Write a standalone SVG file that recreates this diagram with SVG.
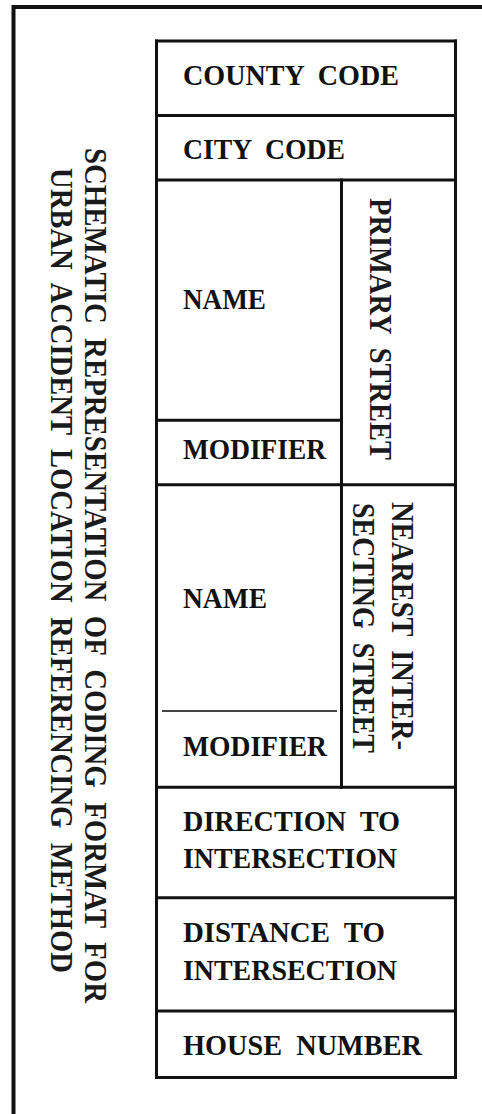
<svg xmlns="http://www.w3.org/2000/svg" width="482" height="1114" viewBox="0 0 482 1114">
<style>
  .t { font-family: "Liberation Serif", "Times New Roman", serif; font-weight: bold; font-size: 29.5px; fill: #111; white-space: pre; }
  .v { font-family: "Liberation Serif", "Times New Roman", serif; font-weight: bold; font-size: 31px; fill: #1a1a1a; white-space: pre; }
  .ln { stroke: #111; stroke-width: 3; fill: none; stroke-linecap: square; }
  .frame { stroke: #111; stroke-width: 4; fill: none; }
</style>
<rect width="482" height="1114" fill="#fff"/>
<g id="border">
  <line class="frame" x1="12" y1="7" x2="482" y2="7"/>
  <line class="frame" x1="13.5" y1="5" x2="13.5" y2="1114"/>
</g>
<g id="title">
  <text class="v" transform="translate(85,148) rotate(90)" textLength="855" lengthAdjust="spacingAndGlyphs">SCHEMATIC  REPRESENTATION  OF  CODING  FORMAT  FOR</text>
  <text class="v" transform="translate(51,168) rotate(90)" textLength="805" lengthAdjust="spacingAndGlyphs">URBAN  ACCIDENT  LOCATION  REFERENCING  METHOD</text>
</g>
<g id="connectors">
  <line class="ln" x1="156.5" y1="41" x2="455.5" y2="41"/>
  <line class="ln" x1="156.5" y1="41" x2="156.5" y2="1077.5"/>
  <line class="ln" x1="455.5" y1="41" x2="455.5" y2="1077.5"/>
  <line class="ln" x1="156.5" y1="115.5" x2="455.5" y2="115.5"/>
  <line class="ln" x1="156.5" y1="180" x2="455.5" y2="180"/>
  <line class="ln" x1="341.5" y1="180" x2="341.5" y2="787.3"/>
  <line class="ln" x1="156.5" y1="420.3" x2="341.5" y2="420.3"/>
  <line class="ln" x1="156.5" y1="484.7" x2="455.5" y2="484.7"/>
  <line x1="162" y1="711" x2="337" y2="711" stroke="#444" stroke-width="2.2"/>
  <line class="ln" x1="156.5" y1="787.3" x2="455.5" y2="787.3"/>
  <line class="ln" x1="156.5" y1="897.7" x2="455.5" y2="897.7"/>
  <line class="ln" x1="156.5" y1="1011" x2="455.5" y2="1011"/>
  <line class="ln" x1="156.5" y1="1077.5" x2="455.5" y2="1077.5"/>
</g>
<g id="county-code">
  <text class="t" x="183" y="85" textLength="216" lengthAdjust="spacingAndGlyphs">COUNTY  CODE</text>
</g>
<g id="city-code">
  <text class="t" x="183" y="159" textLength="162" lengthAdjust="spacingAndGlyphs">CITY  CODE</text>
</g>
<g id="primary-name">
  <text class="t" x="183" y="309" textLength="83" lengthAdjust="spacingAndGlyphs">NAME</text>
</g>
<g id="primary-modifier">
  <text class="t" x="183" y="459" textLength="143" lengthAdjust="spacingAndGlyphs">MODIFIER</text>
</g>
<g id="primary-street">
  <text class="v" transform="translate(370,198) rotate(90)" textLength="262" lengthAdjust="spacingAndGlyphs">PRIMARY  STREET</text>
</g>
<g id="intersecting-name">
  <text class="t" x="183" y="608" textLength="84" lengthAdjust="spacingAndGlyphs">NAME</text>
</g>
<g id="intersecting-modifier">
  <text class="t" x="183" y="756" textLength="144" lengthAdjust="spacingAndGlyphs">MODIFIER</text>
</g>
<g id="nearest-intersecting-street">
  <text class="v" transform="translate(392,502) rotate(90)" textLength="248" lengthAdjust="spacingAndGlyphs">NEAREST  INTER-</text>
  <text class="v" transform="translate(353,503) rotate(90)" textLength="250" lengthAdjust="spacingAndGlyphs">SECTING  STREET</text>
</g>
<g id="direction-to-intersection">
  <text class="t" x="183" y="831" textLength="217" lengthAdjust="spacingAndGlyphs">DIRECTION  TO</text>
  <text class="t" x="183" y="868" textLength="214" lengthAdjust="spacingAndGlyphs">INTERSECTION</text>
</g>
<g id="distance-to-intersection">
  <text class="t" x="183" y="942" textLength="202" lengthAdjust="spacingAndGlyphs">DISTANCE  TO</text>
  <text class="t" x="183" y="980" textLength="214" lengthAdjust="spacingAndGlyphs">INTERSECTION</text>
</g>
<g id="house-number">
  <text class="t" x="183" y="1055" textLength="239" lengthAdjust="spacingAndGlyphs">HOUSE  NUMBER</text>
</g>
</svg>
